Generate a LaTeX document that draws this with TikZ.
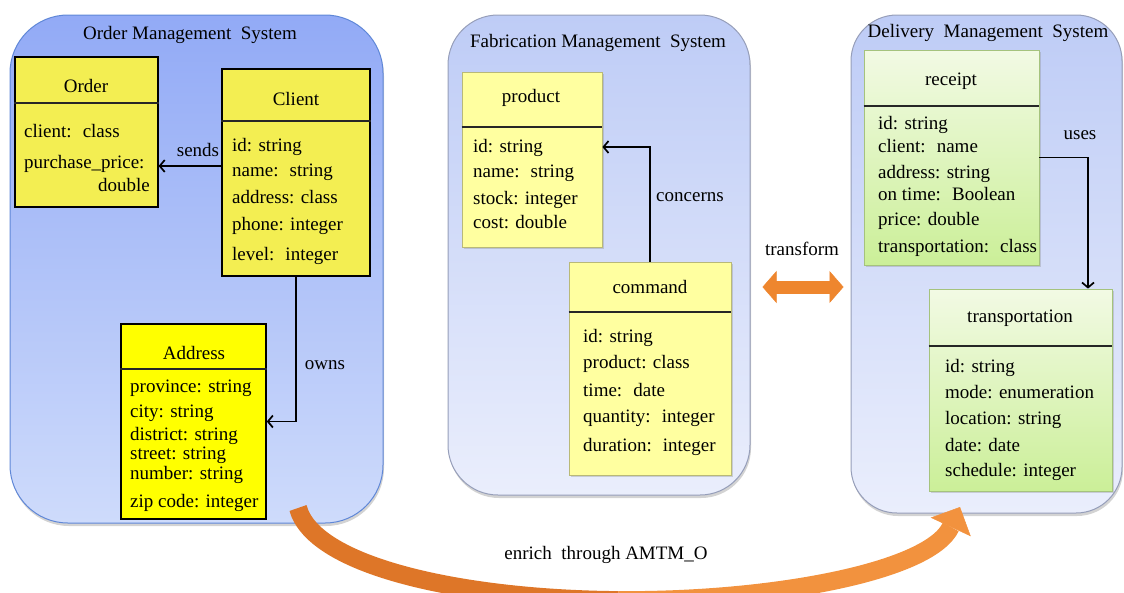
\documentclass[tikz,border=0pt]{standalone}
\usepackage{fontspec}
\setmainfont{Liberation Serif}
\usetikzlibrary{arrows.meta,shadows}

\definecolor{omsTop}{RGB}{146,170,246}
\definecolor{omsBot}{RGB}{206,219,251}
\definecolor{omsLine}{RGB}{95,135,215}
\definecolor{fmsTop}{RGB}{190,204,246}
\definecolor{fmsBot}{RGB}{234,238,252}
\definecolor{fmsLine}{RGB}{150,158,185}
\definecolor{ordYellow}{RGB}{243,238,82}
\definecolor{addrYellow}{RGB}{255,255,0}
\definecolor{fabYellow}{RGB}{255,255,160}
\definecolor{fabLine}{RGB}{185,185,120}
\definecolor{delTop}{RGB}{242,250,228}
\definecolor{delBot}{RGB}{203,239,152}
\definecolor{delLine}{RGB}{165,195,125}
\definecolor{arrOrange}{RGB}{238,134,46}
\definecolor{arrDark}{RGB}{222,118,40}
\definecolor{arrLight}{RGB}{242,146,62}

\tikzset{
	panel/.style={draw=fmsLine, line width=1pt, rounded corners=50pt, top color=fmsTop, bottom color=fmsBot,
		drop shadow={opacity=0.35, shadow xshift=1pt, shadow yshift=-3pt}},
	omspanel/.style={panel, draw=omsLine, rounded corners=58pt, top color=omsTop, bottom color=omsBot},
	ordclass/.style={draw=black, line width=1.2pt, fill=ordYellow},
	addrclass/.style={draw=black, line width=1.5pt, fill=addrYellow},
	fabclass/.style={draw=fabLine, line width=0.8pt, fill=fabYellow,
		drop shadow={opacity=0.3, shadow xshift=2pt, shadow yshift=-2pt}},
	delclass/.style={draw=delLine, line width=0.8pt, top color=delTop, bottom color=delBot,
		drop shadow={opacity=0.3, shadow xshift=2pt, shadow yshift=-2pt}},
	sepline/.style={line width=1.2pt, black!85},
	attr/.style={anchor=west, inner sep=0pt, text height=13pt, text depth=4pt},
	conn/.style={line width=1.7pt, -{Straight Barb[length=5pt,width=12pt]}},
	bothway/.style={draw=arrOrange, line width=13pt,
		{Triangle[length=14pt,width=32pt,line width=0.5pt]}-{Triangle[length=14pt,width=32pt,line width=0.5pt]}},
	enrich/.style={line width=18pt}
}

\begin{document}
\begin{tikzpicture}[x=1pt, y=-1pt, font=\fontsize{19}{22}\selectfont]
	\useasboundingbox (0,0) rectangle (1124,592);
	\clip (0,0) rectangle (1124,592);
	
	% Panels
	\node[omspanel, minimum width=373pt, minimum height=508pt] (omsPanel) at (196.5,269) {};
	\node[panel, minimum width=302pt, minimum height=480pt] (fmsPanel) at (599,255) {};
	\node[panel, rounded corners=46pt, minimum width=271pt, minimum height=498pt] (dmsPanel) at (986.5,264) {};
	
	\node (omsTitle) at (190,35) {Order Management~ System};
	\node (fmsTitle) at (598,43) {Fabrication Management~ System};
	\node (dmsTitle) at (988,33) {Delivery~ Management~ System};
	
	% Order Management System
	\node[ordclass, minimum width=143pt, minimum height=150pt] (order) at (86.5,132) {};
	\draw[sepline] (order.west |- 0,103) -- (order.east |- 0,103);
	\node (orderName) at (86,86) {Order};
	\foreach \y/\t [count=\i] in {133/client:~ class, 164/purchase\_price:}
		\node[attr] (order-\i) at (24,\y) {\t};
	\node[attr, anchor=east] (order-3) at (150,187) {double};
	
	\node[ordclass, minimum width=148pt, minimum height=207pt] (client) at (296,172.5) {};
	\draw[sepline] (client.west |- 0,121) -- (client.east |- 0,121);
	\node (clientName) at (296,99) {Client};
	\foreach \y/\t [count=\i] in {147/id: string, 172/name:~ string, 199/address: class, 226/phone: integer, 256/level:~ integer}
		\node[attr] (client-\i) at (232,\y) {\t};
	
	\node[addrclass, minimum width=145pt, minimum height=195pt] (address) at (193.5,421.5) {};
	\draw[sepline, line width=1.5pt] (address.west |- 0,369) -- (address.east |- 0,369);
	\node (addressName) at (194,353) {Address};
	\foreach \y/\t [count=\i] in {388/province: string, 413/city: string, 436/district: string, 455/street: string, 475/number: string, 503/zip code: integer}
		\node[attr] (address-\i) at (130,\y) {\t};
	
	\draw[conn] (client.west |- 0,166) -- (order.east |- 0,166);
	\node (sendsLbl) at (198,150) {sends};
	\draw[conn] (client.south) |- (address.east);
	\node (ownsLbl) at (325,365) {owns};
	
	% Fabrication Management System
	\node[fabclass, minimum width=140pt, minimum height=175pt] (product) at (532,159.5) {};
	\draw[sepline] (product.west |- 0,127) -- (product.east |- 0,127);
	\node (productName) at (531,98) {product};
	\foreach \y/\t [count=\i] in {148/id: string, 173/name:~ string, 200/stock: integer, 224/cost: double}
		\node[attr] (product-\i) at (473,\y) {\t};
	
	\node[fabclass, minimum width=162pt, minimum height=213pt] (command) at (650,368.5) {};
	\draw[sepline] (command.west |- 0,312) -- (command.east |- 0,312);
	\node (commandName) at (650,287) {command};
	\foreach \y/\t [count=\i] in {338/id: string, 364/product: class, 392/time:~ date, 418/quantity:~ integer, 447/duration:~ integer}
		\node[attr] (command-\i) at (583,\y) {\t};
	
	\draw[conn] (command.north) |- (product.east |- 0,147);
	\node (concernsLbl) at (690,197) {concerns};
	
	% Delivery Management System
	\node[delclass, minimum width=175pt, minimum height=215pt] (receipt) at (951.5,157.5) {};
	\draw[sepline] (receipt.west |- 0,106) -- (receipt.east |- 0,106);
	\node (receiptName) at (951,81) {receipt};
	\foreach \y/\t [count=\i] in {125/id: string, 148/client:~ name, 174/address: string, 196/on time:~ Boolean, 221/price: double, 248/transportation:~ class}
		\node[attr] (receipt-\i) at (878,\y) {\t};
	
	\node[delclass, minimum width=183pt, minimum height=202pt] (transport) at (1020.5,390) {};
	\draw[sepline] (transport.west |- 0,346) -- (transport.east |- 0,346);
	\node (transportName) at (1020,318) {transportation};
	\foreach \y/\t [count=\i] in {368/id: string, 394/mode: enumeration, 420/location: string, 447/date: date, 472/schedule: integer}
		\node[attr] (transport-\i) at (945,\y) {\t};
	
	\draw[conn] (receipt.east) -| (transport.north -| 1088,0);
	\node (usesLbl) at (1080,135) {uses};
	
	% Transform between systems
	\draw[bothway, shorten <=12pt, shorten >=7pt] (fmsPanel.east |- 0,287) -- (dmsPanel.west |- 0,287);
	\node (transformLbl) at (802,249) {transform};
	
	% Enrichment, two halves of one curve
	\coordinate (enrichFrom) at (298,508);
	\coordinate (enrichMid) at (618.5,600.1);
	\coordinate (enrichTo) at (960,507);
	\draw[enrich, arrDark] (enrichFrom) .. controls (314,567) and (464.5,599) .. (enrichMid);
	\draw[enrich, arrLight, -{Triangle[length=22pt,width=44pt,line width=0.5pt]}]
		(enrichMid) .. controls (772.5,601.25) and (930,571.5) .. (enrichTo);
	\node (enrichLbl) at (606,555) {enrich~ through AMTM\_O};
\end{tikzpicture}
\end{document}
